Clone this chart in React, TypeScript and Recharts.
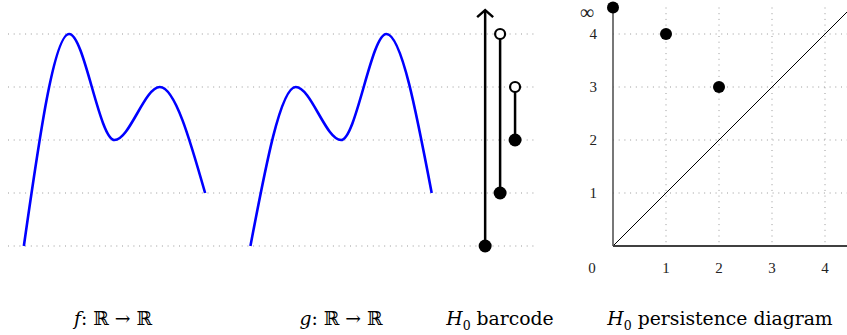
import React from 'react';
import {
  ComposedChart,
  Line,
  Scatter,
  XAxis,
  YAxis,
  CartesianGrid,
  ReferenceLine
} from 'recharts';

// f and g sampled at their critical points
const fX = [0, 1, 2, 3, 4];
const fValues = [0, 4, 2, 3, 1];
const gX = [5, 6, 7, 8, 9];
const gValues = [0, 3, 2, 4, 1];

// H0 barcode: birth / death, position along the x axis
const barX = [10.18, 10.51, 10.84];
const barBirth = [0, 1, 2];
const barDeath = [4.45, 4, 3]; // 4.45 = arrow (infinite bar)

// persistence diagram points
const pdBirth = [0, 1, 2];
const pdDeath = [4.5, 4, 3]; // 4.5 stands for infinity
const levelTicks = [0, 1, 2, 3, 4];
const pdTicks = [1, 2, 3, 4];

const fData = fX.map((x, i) => ({ x, y: fValues[i] }));
const gData = gX.map((x, i) => ({ x, y: gValues[i] }));
const bars = barX.map((x, i) => [
  { x, y: barBirth[i] },
  { x, y: barDeath[i] }
]);
const pdData = pdBirth.map((x, i) => ({ x, y: pdDeath[i] }));

const serif = "'Liberation Serif', 'DejaVu Serif', serif";
const capFont = "'DejaVu Serif', 'Liberation Serif', serif";

const barDot = (infinite: boolean) => (p: any) => {
  const { cx, cy, index } = p;
  if (index === 0) return <circle key={index} cx={cx} cy={cy} r={6.5} fill="#000" />;
  if (infinite)
    return (
      <path
        key={index}
        d={`M${cx - 8},${cy + 7} L${cx},${cy} L${cx + 8},${cy + 7}`}
        fill="none"
        stroke="#000"
        strokeWidth={2.5}
      />
    );
  return <circle key={index} cx={cx} cy={cy} r={5} fill="#fff" stroke="#000" strokeWidth={2.2} />;
};

const XTick = (p: any) => {
  const { x, y, payload } = p;
  const dx = payload.value === 0 ? -21 : 0;
  return (
    <text x={x + dx} y={y} dy="0.71em" textAnchor="middle" fontFamily={serif} fontSize={15} fill="#222">
      {payload.value}
    </text>
  );
};

const YTick = (p: any) => {
  const { x, y, payload } = p;
  const inf = payload.value === 4.5;
  return (
    <text x={x + (inf ? -3 : 0)} y={y + (inf ? 3 : 0)} dy="0.35em" textAnchor="end" fontFamily={serif} fontSize={inf ? 20 : 15} fill="#222">
      {inf ? '∞' : payload.value}
    </text>
  );
};

const Caption = ({ left, children }: { left: number; children: React.ReactNode }) => (
  <div
    style={{
      position: 'absolute',
      top: 308,
      left: left - 150,
      width: 300,
      textAlign: 'center',
      fontFamily: capFont,
      fontSize: 18.8,
      color: '#000',
      whiteSpace: 'nowrap'
    }}
  >
    {children}
  </div>
);

export default function App() {
  return (
    <div style={{ position: 'absolute', top: 0, left: 0, width: 847, height: 335, background: '#fff' }}>
      <div style={{ position: 'absolute', left: 0, top: 0 }}>
        <ComposedChart width={560} height={335} margin={{ top: 7.5, left: 8, right: 25, bottom: 89 }}>
          <CartesianGrid
            vertical={false}
            horizontalValues={levelTicks}
            stroke="#999"
            strokeDasharray="1 4.7"
          />
          <XAxis type="number" dataKey="x" domain={[-0.35, 11.28]} hide />
          <YAxis type="number" domain={[0, 4.5]} ticks={levelTicks} hide />
          <Line
            data={fData}
            dataKey="y"
            type="monotone"
            stroke="#0000ff"
            strokeWidth={2.6}
            dot={false}
            isAnimationActive={false}
          />
          <Line
            data={gData}
            dataKey="y"
            type="monotone"
            stroke="#0000ff"
            strokeWidth={2.6}
            dot={false}
            isAnimationActive={false}
          />
          {bars.map((b, i) => (
            <Line
              key={i}
              data={b}
              dataKey="y"
              type="linear"
              stroke="#000"
              strokeWidth={2.5}
              dot={barDot(i === 0)}
              activeDot={false}
              isAnimationActive={false}
            />
          ))}
        </ComposedChart>
      </div>
      <div style={{ position: 'absolute', left: 560, top: 0 }}>
        <ComposedChart width={287} height={335} margin={{ top: 7.5, left: 13, right: 0, bottom: 0 }}>
          <CartesianGrid
            horizontalValues={pdTicks}
            verticalValues={pdTicks}
            stroke="#999"
            strokeDasharray="1 4.7"
          />
          <XAxis
            type="number"
            dataKey="x"
            domain={[0, 4.415]}
            ticks={[0, 1, 2, 3, 4]}
            tick={<XTick />}
            tickLine={false}
            tickSize={0}
            tickMargin={16}
            height={89}
            axisLine={{ stroke: '#000', strokeWidth: 1.6 }}
          />
          <YAxis
            type="number"
            dataKey="y"
            domain={[0, 4.5]}
            ticks={[1, 2, 3, 4, 4.5]}
            tick={<YTick />}
            tickLine={false}
            tickSize={0}
            tickMargin={16}
            width={40}
            axisLine={{ stroke: '#555', strokeWidth: 1.6 }}
          />
          <ReferenceLine
            segment={[
              { x: 0, y: 0 },
              { x: 4.415, y: 4.415 }
            ]}
            stroke="#000"
            strokeWidth={1}
          />
          <Scatter
            data={pdData}
            dataKey="y"
            isAnimationActive={false}
            shape={(p: any) => <circle cx={p.cx} cy={p.cy} r={6} fill="#000" />}
          />
        </ComposedChart>
      </div>
      <Caption left={113}>
        <i>f</i>: ℝ → ℝ
      </Caption>
      <Caption left={341}>
        <i>g</i>: ℝ → ℝ
      </Caption>
      <Caption left={500}>
        <i>H</i>
        <sub style={{ fontSize: 12.5 }}>0</sub> barcode
      </Caption>
      <Caption left={720}>
        <i>H</i>
        <sub style={{ fontSize: 12.5 }}>0</sub> persistence diagram
      </Caption>
    </div>
  );
}
